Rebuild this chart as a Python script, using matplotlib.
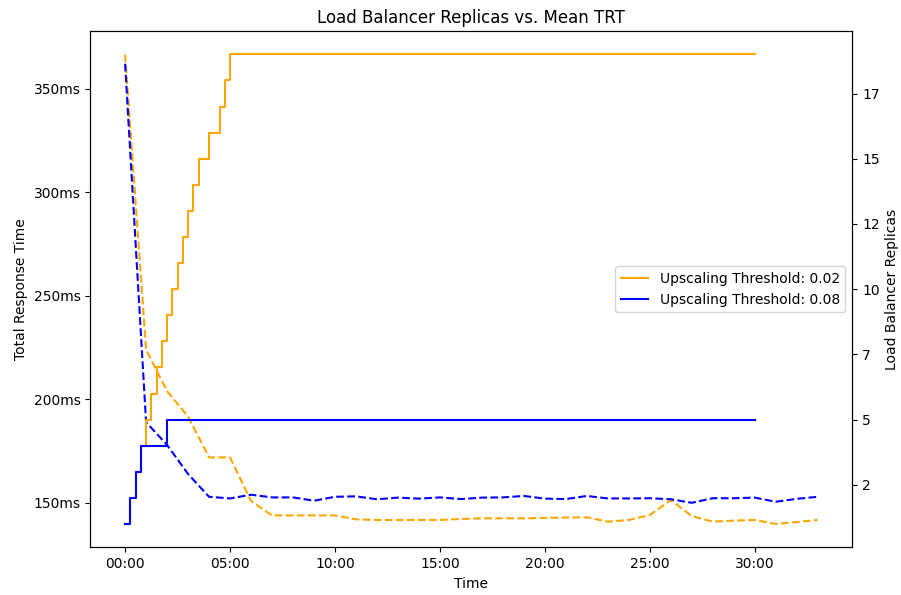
import numpy as np
from matplotlib import pyplot as plt
from matplotlib.ticker import FuncFormatter, MultipleLocator

# time in minutes since start of the run
trt_minutes = np.arange(0, 34)

# mean total response time (ms) for each upscaling threshold
trt_thr_002 = [366.5, 224.0, 204.0, 191.7, 172.0, 172.0, 151.0, 144.0, 144.0, 144.0,
               144.0, 142.1, 141.8, 141.8, 141.8, 141.8, 142.3, 142.6, 142.6, 142.6,
               142.8, 143.0, 143.1, 141.0, 141.8, 144.2, 151.4, 143.7, 141.0, 141.5,
               141.8, 139.9, 140.8, 141.8]
trt_thr_008 = [362.0, 189.0, 178.0, 164.0, 153.0, 152.2, 154.0, 152.7, 152.7, 151.1,
               153.0, 153.2, 151.8, 152.6, 152.1, 152.7, 151.9, 152.6, 152.7, 153.4,
               152.1, 151.9, 153.4, 152.2, 152.2, 152.3, 151.8, 150.1, 152.3, 152.3,
               152.6, 150.6, 152.0, 153.0]

# replica count changes (minute, replicas), held until the next change
rep_t_002 = [0, 0.25, 0.5, 0.75, 1.0, 1.25, 1.5, 1.75, 2.0, 2.25, 2.5, 2.75,
             3.0, 3.25, 3.5, 4.0, 4.5, 4.75, 5.0, 30]
rep_n_002 = [1, 2, 3, 4, 5, 6, 7, 8, 9, 10, 11, 12, 13, 14, 15, 16, 17, 18, 19, 19]
rep_t_008 = [0, 0.25, 0.5, 0.75, 2.0, 30]
rep_n_008 = [1, 2, 3, 4, 5, 5]

labels = ["Upscaling Threshold: 0.02", "Upscaling Threshold: 0.08"]
colors = ["orange", "blue"]

fig, ax = plt.subplots(figsize=(9.01, 5.95), dpi=100)
fig.subplots_adjust(left=0.1004, right=0.946, top=0.948, bottom=0.080)

ax.plot(trt_minutes, trt_thr_002, color=colors[0], linestyle="--", linewidth=1.5)
ax.plot(trt_minutes, trt_thr_008, color=colors[1], linestyle="--", linewidth=1.5)
ax.set_ylabel("Total Response Time")
ax.set_xlabel("Time")
ax.yaxis.set_major_locator(MultipleLocator(50))
ax.yaxis.set_major_formatter(FuncFormatter(lambda v, p: "%dms" % v))
ax.xaxis.set_major_locator(MultipleLocator(5))
ax.xaxis.set_major_formatter(FuncFormatter(lambda v, p: "%02d:00" % v))

ax2 = ax.twinx()
ax2.plot(rep_t_002, rep_n_002, color=colors[0], drawstyle="steps-post", linewidth=1.5, label=labels[0])
ax2.plot(rep_t_008, rep_n_008, color=colors[1], drawstyle="steps-post", linewidth=1.5, label=labels[1])
ax2.set_ylabel("Load Balancer Replicas")
ax2.yaxis.set_major_locator(MultipleLocator(2.5))
ax2.yaxis.set_major_formatter(FuncFormatter(lambda v, p: "%d" % v))
ax2.legend(loc="center right")

plt.title("Load Balancer Replicas vs. Mean TRT")
plt.savefig("out.png", dpi=100)
